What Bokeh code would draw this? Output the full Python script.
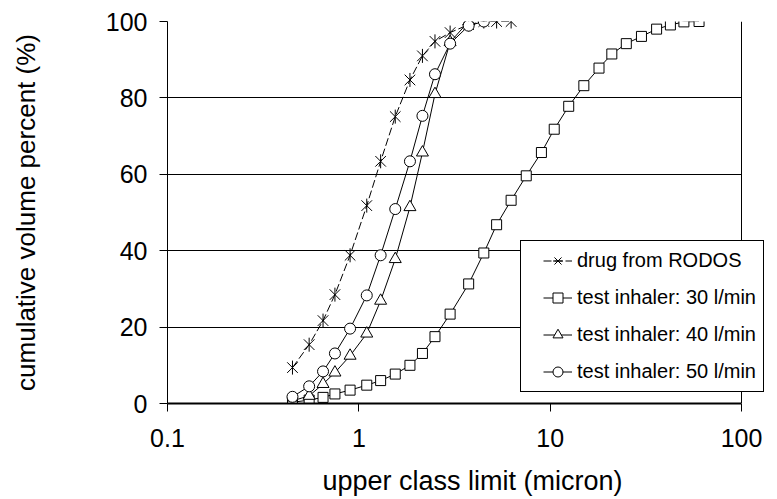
import math
from bokeh.plotting import figure
from bokeh.models import (FixedTicker, CustomJSTickFormatter, Legend, LegendItem, Range1d,
                          BoxAnnotation, Span)
from bokeh.embed import file_html
from bokeh.resources import INLINE

# upper class limits (micron) of the laser diffraction classes
class_limits = [0.45, 0.55, 0.65, 0.75, 0.90, 1.10, 1.30, 1.55, 1.85, 2.15, 2.50, 3.00,
                3.75, 4.50, 5.25, 6.25, 7.50, 9.00, 10.5, 12.5, 15.0, 18.0, 21.0, 25.0,
                30.0, 36.0, 42.5, 50.0, 60.0]

# cumulative volume percent per series
rodos_pct = [9.4, 15.4, 21.7, 28.5, 38.8, 51.8, 63.4, 75.1, 84.7, 91.0, 94.8, 97.1,
             99.2, 100, 100, 100]
inh30_pct = [0.3, 0.9, 1.6, 2.5, 3.5, 4.8, 6.0, 7.7, 10.0, 13.1, 17.5, 23.4, 31.3, 39.4,
             46.8, 53.2, 59.6, 65.7, 71.8, 77.8, 83.2, 87.8, 91.5, 94.2, 96.1, 98.0, 99.1,
             99.9, 100]
inh40_pct = [0.7, 2.0, 5.1, 8.1, 12.5, 18.3, 26.9, 37.8, 51.4, 65.7, 81.0, 94.6, 100]
inh50_pct = [1.75, 4.5, 8.4, 13.1, 19.6, 28.3, 38.8, 50.9, 63.4, 75.3, 86.2, 94.2, 98.9, 100]

series_labels = ["drug from RODOS", "test inhaler: 30 l/min",
                 "test inhaler: 40 l/min", "test inhaler: 50 l/min"]
x_ticks = [0.1, 1, 10, 100]
y_ticks = [0, 20, 40, 60, 80, 100]

FONT = "Liberation Sans"

# layout (page pixels)
W, H = 777, 499
FRAME_LEFT, FRAME_TOP, FRAME_BOTTOM = 167, 21, 403
AXIS_RIGHT = 741            # where x = 100 sits; frame continues to the page edge
frame_w = W - FRAME_LEFT
x_end = 10 ** (-1 + 3 * frame_w / (AXIS_RIGHT - FRAME_LEFT))

p = figure(width=W, height=H, x_axis_type="log",
           x_range=Range1d(0.1, x_end), y_range=Range1d(0, 100),
           output_backend="svg", toolbar_location=None,
           min_border_left=FRAME_LEFT, min_border_right=0, min_border_top=FRAME_TOP,
           min_border_bottom=H - FRAME_BOTTOM)
p.background_fill_color = "white"
p.border_fill_color = "white"
p.outline_line_color = None

# axes
p.xaxis.ticker = FixedTicker(ticks=x_ticks, minor_ticks=[])
p.xaxis.formatter = CustomJSTickFormatter(code="return tick.toString();")
p.xaxis.bounds = (x_ticks[0], x_ticks[-1])
p.yaxis.ticker = FixedTicker(ticks=y_ticks, minor_ticks=[])
for ax in (p.xaxis[0], p.yaxis[0]):
    ax.major_tick_in = 0
    ax.major_tick_out = 8
    ax.minor_tick_in = 0
    ax.minor_tick_out = 0
    ax.major_tick_line_color = "black"
    ax.axis_line_color = "black"
    ax.major_label_text_font = FONT
    ax.major_label_text_font_size = "25px"
    ax.major_label_text_color = "black"
    ax.axis_label_text_font = FONT
    ax.axis_label_text_font_style = "normal"
    ax.axis_label_text_color = "black"
p.xaxis.axis_label_text_font_size = "27px"
p.yaxis.axis_label_text_font_size = "26px"
p.xaxis.axis_line_width = 2
p.xaxis.major_label_standoff = 17
p.xaxis.axis_label_standoff = 16
p.yaxis.major_label_standoff = 12
p.yaxis.axis_label_standoff = 62
p.xaxis.axis_label = "upper class limit (micron)"
p.yaxis.axis_label = "cumulative volume percent (%)"

p.xgrid.visible = False
p.ygrid.grid_line_color = "black"
p.ygrid.grid_line_alpha = 1.0
p.ygrid.grid_line_width = 1

# series
x_r = class_limits[:len(rodos_pct)]
l_r = p.line(x_r, rodos_pct, line_color="black", line_width=1, line_dash="8 3")
m_r1 = p.scatter(x_r, rodos_pct, marker="x", size=15, line_color="black", line_width=1)
m_r2 = p.scatter(x_r, rodos_pct, marker="dash", angle=math.pi / 2, size=14,
                 line_color="black", line_width=1)

x_30 = class_limits[:len(inh30_pct)]
l_30 = p.line(x_30, inh30_pct, line_color="black", line_width=1)
m_30 = p.scatter(x_30, inh30_pct, marker="square", size=10, line_color="black",
                 fill_color="white", line_width=1)

x_40 = class_limits[:len(inh40_pct)]
l_40 = p.line(x_40, inh40_pct, line_color="black", line_width=1)
m_40 = p.scatter(x_40, inh40_pct, marker="triangle", size=12, line_color="black",
                 fill_color="white", line_width=1)

x_50 = class_limits[:len(inh50_pct)]
l_50 = p.line(x_50, inh50_pct, line_color="black", line_width=1)
m_50 = p.scatter(x_50, inh50_pct, marker="circle", size=11, line_color="black",
                 fill_color="white", line_width=1)

# hide the grid beyond x = 100 and draw the plot area's right border there
mask = BoxAnnotation(left=x_ticks[-1], fill_color="white", fill_alpha=1.0,
                     line_alpha=0.0)
p.add_layout(mask)
p.add_layout(Span(location=x_ticks[-1], dimension="height", line_color="black",
                  line_width=1))

legend = Legend(items=[
    LegendItem(label=series_labels[0], renderers=[l_r, m_r1, m_r2]),
    LegendItem(label=series_labels[1], renderers=[l_30, m_30]),
    LegendItem(label=series_labels[2], renderers=[l_40, m_40]),
    LegendItem(label=series_labels[3], renderers=[l_50, m_50]),
], location=(353, 11))
legend.margin = 0
legend.padding = 7
legend.spacing = 12
legend.glyph_width = 29
legend.glyph_height = 25
legend.label_height = 25
legend.label_standoff = 5
legend.label_text_font = FONT
legend.label_text_font_size = "20px"
legend.label_text_color = "black"
legend.border_line_color = "black"
legend.border_line_alpha = 1.0
legend.border_line_width = 1
legend.background_fill_color = "white"
legend.background_fill_alpha = 1.0
legend.title = " "
legend.title_location = "left"
legend.title_text_font_size = "10px"
legend.title_standoff = 4
p.add_layout(legend)

open("out.html", "w").write(file_html(p, INLINE))
